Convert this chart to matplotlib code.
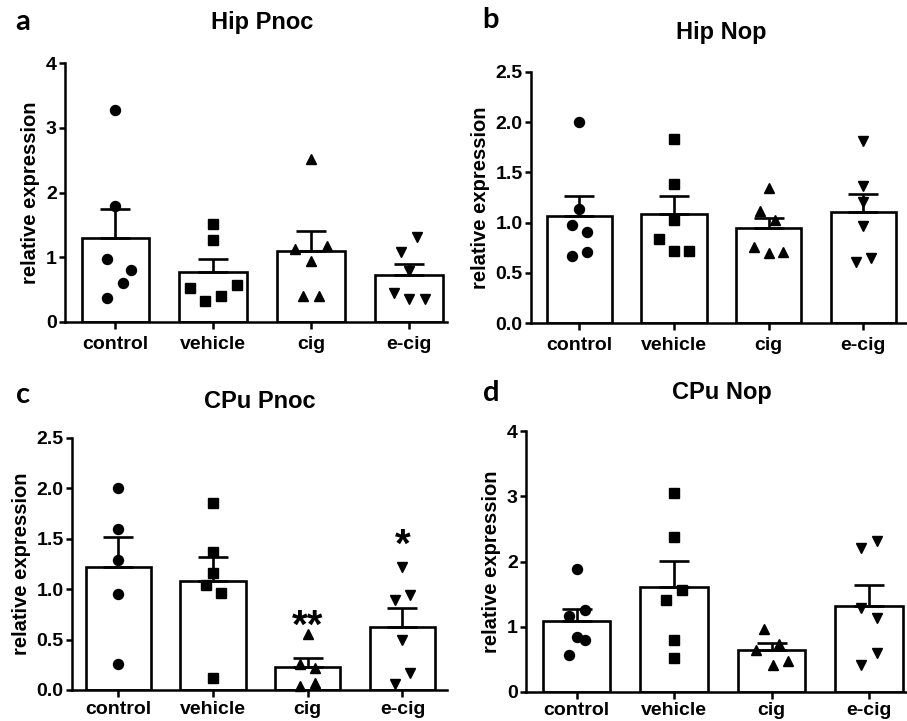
import matplotlib.pyplot as plt
import numpy as np

plt.rcParams['font.family'] = ['Liberation Sans', 'DejaVu Sans']
plt.rcParams['font.weight'] = 'bold'
plt.rcParams['axes.labelweight'] = 'bold'

groups = ["control", "vehicle", "cig", "e-cig"]
markers = ["o", "s", "^", "v"]
marker_sizes = [7.2, 6.6, 7.2, 7.2]

# Hip Pnoc
hip_pnoc = [
    [3.28, 1.79, 0.98, 0.80, 0.60, 0.37],
    [1.51, 1.26, 0.57, 0.53, 0.40, 0.32],
    [2.51, 1.17, 1.12, 0.94, 0.40, 0.40],
    [1.31, 1.08, 0.79, 0.45, 0.36, 0.36],
]
hip_pnoc_jit = [
    [0, 0, -0.085, 0.165, 0.08, -0.085],
    [0, 0, 0.24, -0.24, 0.08, -0.08],
    [0, 0.16, -0.16, 0, -0.08, 0.08],
    [0.085, -0.08, 0, -0.155, 0, 0.165],
]

# Hip Nop
hip_nop = [
    [2.00, 1.14, 0.98, 0.91, 0.71, 0.67],
    [1.83, 1.38, 1.03, 0.84, 0.72, 0.72],
    [1.34, 1.12, 1.03, 0.76, 0.71, 0.70],
    [1.81, 1.36, 1.21, 0.97, 0.65, 0.61],
]
hip_nop_jit = [
    [0, 0, -0.08, 0.08, 0.08, -0.08],
    [0, 0, 0, -0.16, 0, 0.16],
    [0, -0.09, 0.07, -0.16, 0.15, 0],
    [0, 0, 0, 0, 0.08, -0.08],
]

# CPu Pnoc
cpu_pnoc = [
    [2.00, 1.60, 1.29, 0.95, 0.26],
    [1.86, 1.37, 1.16, 1.04, 0.96, 0.12],
    [0.555, 0.26, 0.22, 0.07, 0.04],
    [1.22, 0.94, 0.89, 0.50, 0.165, 0.06],
]
cpu_pnoc_jit = [
    [0, 0, 0, 0, 0],
    [0, 0, 0, -0.08, 0.08, 0],
    [0, -0.08, 0.08, 0.08, -0.08],
    [0, 0.08, -0.08, 0, 0.08, -0.08],
]
cpu_pnoc_stars = ["", "", "**", "*"]
cpu_pnoc_star_y = [0, 0, 0.74, 1.54]

# CPu Nop
cpu_nop = [
    [1.89, 1.26, 1.16, 0.84, 0.79, 0.56],
    [3.05, 2.37, 1.56, 1.41, 0.79, 0.52],
    [0.97, 0.73, 0.64, 0.47, 0.42],
    [2.31, 2.20, 1.28, 1.13, 0.60, 0.41],
]
cpu_nop_jit = [
    [0, 0.085, -0.08, 0, 0.085, -0.08],
    [0, 0, 0.08, -0.08, 0, 0],
    [-0.075, 0.08, -0.155, 0.165, 0.01],
    [0.08, -0.085, -0.085, 0.08, 0.08, -0.085],
]

W, H = 907, 721
fig = plt.figure(figsize=(W / 100, H / 100), dpi=100)


def px_axes(left, top, right, bottom):
    return fig.add_axes([left / W, 1 - bottom / H, (right - left) / W, (bottom - top) / H])


def panel(ax, data, jit, ymax, yticks, yfmt, xlim, xpad=5):
    x = np.arange(len(groups))
    means = [np.mean(v) for v in data]
    sems = [np.std(v, ddof=1) / np.sqrt(len(v)) for v in data]
    ax.bar(x, means, width=0.69, color="white", edgecolor="black", linewidth=1.9, zorder=2)
    ax.errorbar(x, means, yerr=[np.zeros(len(x)), sems], fmt="none", ecolor="black",
                elinewidth=1.9, capsize=11, capthick=1.9, zorder=3)
    for i, vals in enumerate(data):
        ax.plot(x[i] + np.array(jit[i]), vals, linestyle="none", marker=markers[i],
                markersize=marker_sizes[i], color="black", zorder=4, clip_on=False)
    ax.set_xlim(*xlim)
    ax.set_ylim(0, ymax)
    ax.set_yticks(yticks)
    ax.set_yticklabels([yfmt.format(t) for t in yticks])
    ax.set_xticks(x)
    ax.set_xticklabels(groups)
    for s in ["top", "right"]:
        ax.spines[s].set_visible(False)
    for s in ["left", "bottom"]:
        ax.spines[s].set_linewidth(1.8)
    ax.tick_params(axis="y", length=4, width=1.8, pad=2, labelsize=14)
    ax.tick_params(axis="x", length=5, width=1.8, pad=xpad, labelsize=14)
    ax.set_ylabel("relative expression", fontsize=14.5, labelpad=4)
    return x


ax_a = px_axes(65, 63, 447, 322)
panel(ax_a, hip_pnoc, hip_pnoc_jit, 4, [0, 1, 2, 3, 4], "{:.0f}", (-0.514, 3.39))

ax_b = px_axes(531, 72, 907, 323)
panel(ax_b, hip_nop, hip_nop_jit, 2.5, [0, 0.5, 1.0, 1.5, 2.0, 2.5], "{:.1f}", (-0.51, 3.46))

ax_c = px_axes(72, 438, 447, 690)
xc = panel(ax_c, cpu_pnoc, cpu_pnoc_jit, 2.5, [0, 0.5, 1.0, 1.5, 2.0, 2.5], "{:.1f}",
           (-0.49, 3.47), xpad=3)
for i, s in enumerate(cpu_pnoc_stars):
    if s:
        # asterisk glyph sits high in the em box, so anchor on baseline and shift down
        ax_c.annotate(s, (xc[i], cpu_pnoc_star_y[i]), xytext=(0, -16), textcoords="offset points",
                      ha="center", va="baseline", fontsize=29, fontweight="bold", zorder=5)

ax_d = px_axes(526, 431, 907, 692)
panel(ax_d, cpu_nop, cpu_nop_jit, 4, [0, 1, 2, 3, 4], "{:.0f}", (-0.52, 3.39), xpad=2)

# titles and panel letters
titles = [("Hip Pnoc", 262, 23), ("Hip Nop", 721, 33), ("CPu Pnoc", 260, 402), ("CPu Nop", 722, 392)]
for t, x, y in titles:
    fig.text(x / W, 1 - y / H, t, ha="center", va="center", fontsize=17, fontweight="bold")

letters = [("a", 23, 22), ("b", 491, 20), ("c", 23, 395), ("d", 491, 393)]
for t, x, y in letters:
    fig.text(x / W, 1 - y / H, t, ha="center", va="center", fontsize=21, fontweight="bold",
             family=["Lato", "DejaVu Sans"])

fig.savefig("out.png", dpi=100)
